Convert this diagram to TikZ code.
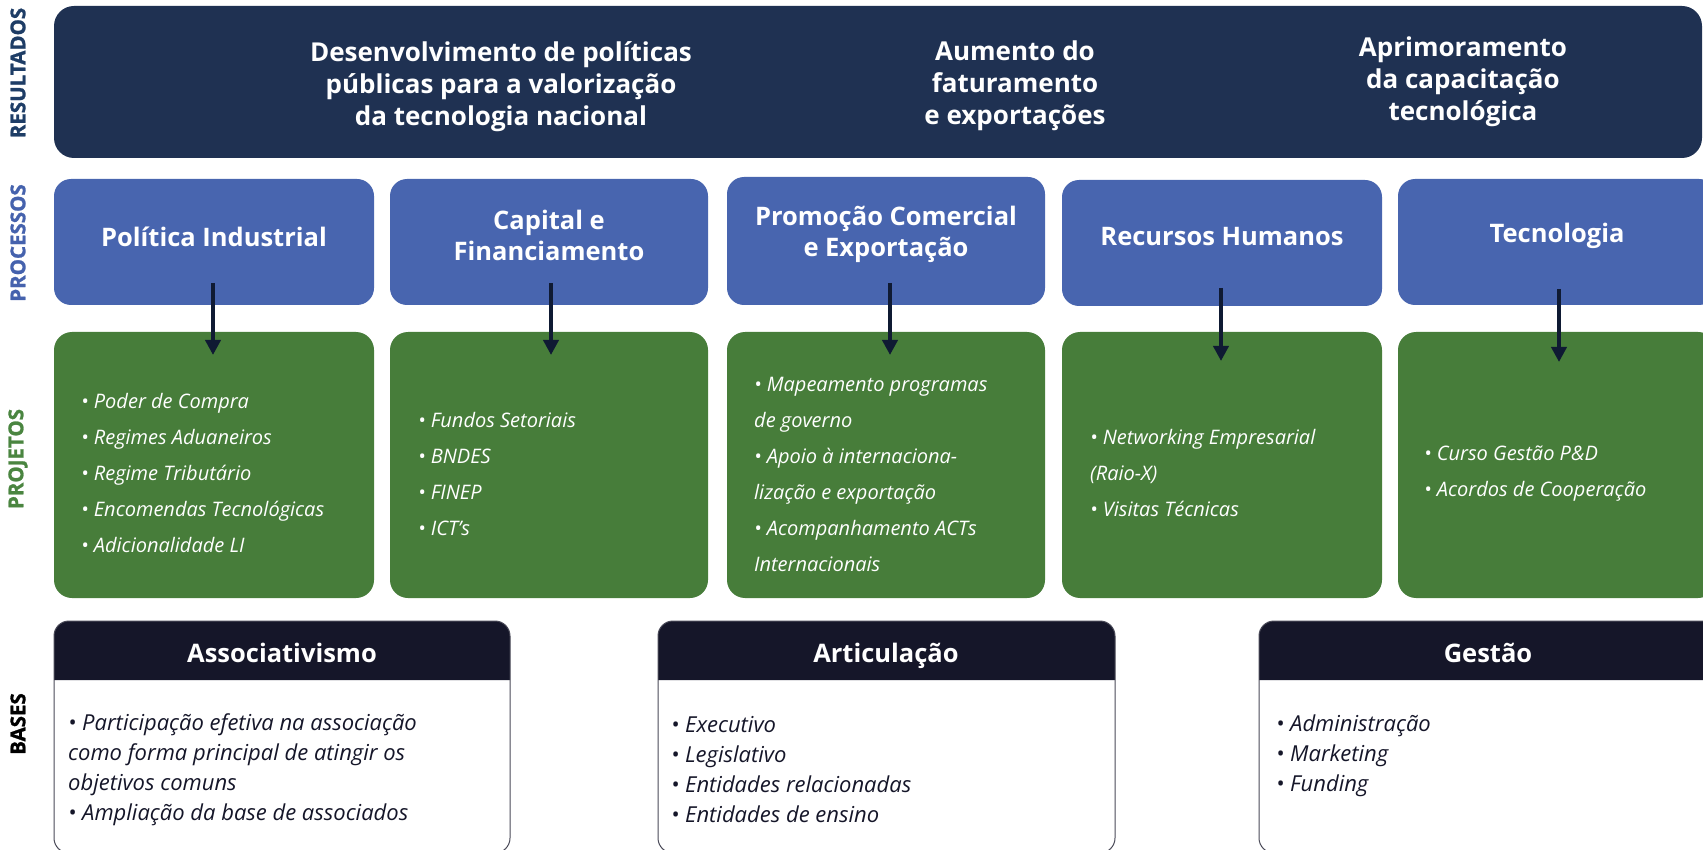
\documentclass[tikz,border=0pt]{standalone}
\usepackage{fontspec}
\setmainfont{Open Sans}
\newfontfamily\heavyfont{Open Sans}[BoldFeatures={FakeBold=1.2}]
\usetikzlibrary{arrows.meta}
\definecolor{topc}{HTML}{1F3152}
\definecolor{procc}{HTML}{4865AF}
\definecolor{projc}{HTML}{477D3A}
\definecolor{basec}{HTML}{151629}
\definecolor{arrc}{HTML}{0F1A33}
\definecolor{labres}{HTML}{1E3D66}
\definecolor{labproc}{HTML}{4562AD}
\definecolor{labproj}{HTML}{4A8540}
\definecolor{bordc}{HTML}{4A4A58}
\tikzset{
  box/.style={draw=none, inner sep=0pt, outer sep=0pt},
  topbox/.style={box, fill=topc, rounded corners=20pt},
  procbox/.style={box, fill=procc, rounded corners=17pt, minimum height=126pt},
  projbox/.style={box, fill=projc, rounded corners=18pt, minimum height=266pt},
  bframe/.style={draw=bordc, line width=1pt, fill=white, rounded corners=15pt, inner sep=0pt, outer sep=0pt},
  toptxt/.style={text=white, align=center, font=\fontsize{26}{32}\selectfont\bfseries},
  proctxt/.style={text=white, align=center, font=\fontsize{25.5}{31}\selectfont\bfseries},
  projtxt/.style={text=white, align=left, anchor=west, inner sep=0pt, font=\fontsize{20}{36}\selectfont\itshape},
  headtxt/.style={text=white, anchor=base, font=\fontsize{25.5}{28}\selectfont\bfseries},
  basetxt/.style={text=basec, align=left, anchor=west, inner sep=0pt, font=\fontsize{22}{30}\selectfont\itshape},
  sidelab/.style={rotate=90, font=\heavyfont\fontsize{20.5}{20}\selectfont\bfseries},
  arr/.style={draw=arrc, line width=4pt, -{Triangle[width=15pt,length=15pt]}}
}
\begin{document}
\begin{tikzpicture}[x=1pt,y=-1pt]
\useasboundingbox (0,0) rectangle (1703,850);
\clip (0,0) rectangle (1703,850);

% side labels
\node[sidelab, text=labres] (lres) at (18,73) {RESULTADOS};
\node[sidelab, text=labproc] (lproc) at (18,243) {PROCESSOS};
\node[sidelab, text=labproj] (lproj) at (18,459) {PROJETOS};
\node[sidelab, text=black] (lbase) at (18,724) {BASES};

% results
\node[topbox, minimum width=1648pt, minimum height=152pt] (res) at (878,82) {};
\node[toptxt] (r1) at (501,87) {Desenvolvimento de políticas\\públicas para a valorização\\da tecnologia nacional};
\node[toptxt] (r2) at (1015,86) {Aumento do\\faturamento\\e exportações};
\node[toptxt] (r3) at (1463,82) {Aprimoramento\\da capacitação\\tecnológica};

% processes
\node[procbox, minimum width=320pt] (p1) at (214,242) {};
\node[procbox, minimum width=318pt] (p2) at (549,242) {};
\node[procbox, minimum width=318pt, minimum height=128pt] (p3) at (886,241) {};
\node[procbox, minimum width=320pt] (p4) at (1222,243) {};
\node[procbox, minimum width=318pt] (p5) at (1557,242) {};
\node[proctxt] (pt1) at (214,237) {Política Industrial};
\node[proctxt] (pt2) at (549,235) {Capital e\\Financiamento};
\node[proctxt] (pt3) at (886,234) {Promoção Comercial\\e Exportação};
\node[proctxt] (pt4) at (1222,237) {Recursos Humanos};
\node[proctxt] (pt5) at (1557,235.5) {Tecnologia};

% projects
\node[projbox, minimum width=320pt] (g1) at (214,465) {};
\node[projbox, minimum width=318pt] (g2) at (549,465) {};
\node[projbox, minimum width=318pt] (g3) at (886,465) {};
\node[projbox, minimum width=320pt] (g4) at (1222,465) {};
\node[projbox, minimum width=318pt] (g5) at (1557,465) {};
\node[projtxt] (gt1) at (81,473) {• Poder de Compra\\• Regimes Aduaneiros\\• Regime Tributário\\• Encomendas Tecnológicas\\• Adicionalidade LI};
\node[projtxt] (gt2) at (418,474) {• Fundos Setoriais\\• BNDES\\• FINEP\\• ICT’s};
\node[projtxt] (gt3) at (754,474) {• Mapeamento programas\\de governo\\• Apoio à internaciona-\\lização e exportação\\• Acompanhamento ACTs\\Internacionais};
\node[projtxt] (gt4) at (1090,473) {• Networking Empresarial\\(Raio-X)\\• Visitas Técnicas};
\node[projtxt] (gt5) at (1424,474) {• Curso Gestão P\&D\\• Acordos de Cooperação};

% arrows
\draw[arr] ([xshift=-1pt,yshift=22pt]p1.south) -- ([xshift=-1pt,yshift=-23pt]g1.north);
\draw[arr] ([xshift=2pt,yshift=22pt]p2.south) -- ([xshift=2pt,yshift=-23pt]g2.north);
\draw[arr] ([xshift=4pt,yshift=22pt]p3.south) -- ([xshift=4pt,yshift=-23pt]g3.north);
\draw[arr] ([xshift=-1pt,yshift=18pt]p4.south) -- ([xshift=-1pt,yshift=-29pt]g4.north);
\draw[arr] ([xshift=2pt,yshift=16pt]p5.south) -- ([xshift=2pt,yshift=-30pt]g5.north);

% bases
\foreach \nm/\xa/\xb in {b1/54/510, b2/658/1115, b3/1259/1717} {
  \fill[bframe, draw=none] (\xa,621) rectangle (\xb,853);
  \fill[basec] (\xa,680) [rounded corners=15pt] -- (\xa,621) -- (\xb,621) [sharp corners] -- (\xb,680) -- cycle;
  \draw[bordc, line width=1pt, rounded corners=15pt] (\xa,621) rectangle (\xb,853);
}
\node[headtxt] (h1) at (282,662) {Associativismo};
\node[headtxt] (h2) at (886,662) {Articulação};
\node[headtxt] (h3) at (1488,662) {Gestão};
\node[basetxt] (bt1) at (68,770) {• Participação efetiva na associação\\como forma principal de atingir os\\objetivos comuns\\• Ampliação da base de associados};
\node[basetxt] (bt2) at (671,770) {• Executivo\\• Legislativo\\• Entidades relacionadas\\• Entidades de ensino};
\node[basetxt] (bt3) at (1276,755.5) {• Administração\\• Marketing\\• Funding};
\end{tikzpicture}
\end{document}
